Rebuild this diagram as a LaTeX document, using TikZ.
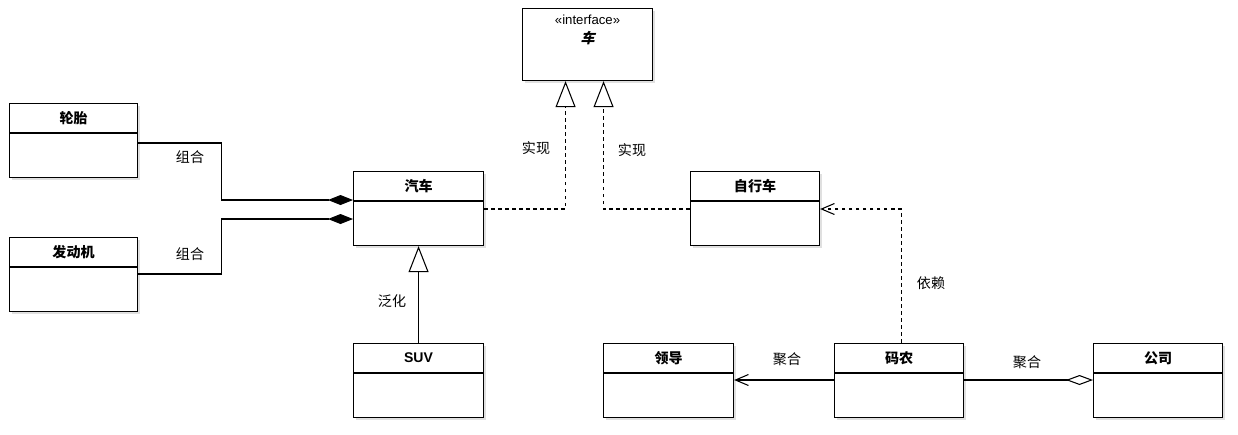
\documentclass[tikz,border=0pt]{standalone}
\usepackage{fontspec}
\setmainfont{Liberation Sans}
\newfontfamily\cjk{Noto Sans CJK SC}
\newfontfamily\cjkslant{Noto Sans CJK SC}[FakeSlant=0.25]
\usetikzlibrary{arrows.meta,calc,shadows}

\tikzset{
  x=0.02cm, y=-0.02cm,
  classbox/.style={rectangle,draw=black,line width=0.65pt,fill=white,
    minimum width=2.6cm,minimum height=1.48cm,anchor=north west,
    drop shadow={shadow xshift=1.6pt,shadow yshift=-1.6pt,fill=black!12,opacity=1}},
  classtitle/.style={font=\cjk\bfseries\fontsize{8}{10}\selectfont,inner sep=0pt},
  edgelabel/.style={font=\cjk\fontsize{8}{10}\selectfont,inner sep=1pt},
  compose/.style={line width=0.6pt,-{Diamond[length=0.5cm,width=0.2cm]}},
  realize/.style={line width=0.6pt,dash pattern=on 2pt off 2pt,
    -{Triangle[open,length=0.52cm,width=0.4cm,fill=white]}},
  generalize/.style={line width=0.6pt,-{Triangle[open,length=0.52cm,width=0.4cm,fill=white]}},
  depend/.style={line width=0.6pt,dash pattern=on 2pt off 2pt,-{Straight Barb[length=0.26cm,width=0.22cm]}},
  aggto/.style={line width=0.6pt,-{Straight Barb[length=0.26cm,width=0.22cm]}},
  aggregate/.style={line width=0.6pt,-{Diamond[open,length=0.54cm,width=0.2cm,fill=white]}}
}

% class box with a name compartment
\newcommand{\umlclass}[5][2.6cm]{%
  \node[classbox,minimum width=#1] (#2) at (#3,#4) {};
  \draw[line width=0.65pt] ($(#2.north west)+(0,30)$) -- ($(#2.north east)+(0,30)$);
  \node[classtitle] (#2-name) at ($(#2.north)+(0,15)$) {#5};
}

\begin{document}
\begin{tikzpicture}
  \useasboundingbox (0,0) rectangle (1238,434);

  % interface
  \node[classbox,minimum height=1.44cm] (iface) at (522,8) {};
  \node[font=\fontsize{7.5}{9}\selectfont,inner sep=0pt] (iface-st) at ($(iface.north)+(0,12)$) {«interface»};
  \node[font=\cjkslant\bfseries\fontsize{8}{10}\selectfont,inner sep=0pt] (iface-name) at ($(iface.north)+(0,30)$) {车};

  % classes
  \umlclass[2.56cm]{luntai}{9}{103}{轮胎}
  \umlclass[2.56cm]{fadongji}{9}{237}{发动机}
  \umlclass{qiche}{353}{171}{汽车}
  \umlclass[2.58cm]{zixingche}{690}{171}{自行车}
  \umlclass{suv}{353}{343}{{\rmfamily SUV}}
  \umlclass{lingdao}{603}{343}{领导}
  \umlclass[2.58cm]{manong}{834}{343}{码农}
  \umlclass[2.58cm]{gongsi}{1093}{343}{公司}

  % composition
  \draw[compose] ($(luntai.north east)+(0,40)$) -- ++(83,0) |- ($(qiche.north west)+(0,29)$);
  \draw[compose] ($(fadongji.north east)+(0,37)$) -- ++(83,0) |- ($(qiche.north west)+(0,48)$);
  \node[edgelabel] (lbl-zh1) at (190,157) {组合};
  \node[edgelabel] (lbl-zh2) at (190,254) {组合};

  % realization
  \draw[realize] ($(qiche.north east)+(0,38)$) -| ($(iface.south)+(-22,0)$);
  \draw[realize] ($(zixingche.north west)+(0,38)$) -| ($(iface.south)+(16,0)$);
  \node[edgelabel] (lbl-sx1) at (536,148) {实现};
  \node[edgelabel] (lbl-sx2) at (632,150) {实现};

  % generalization
  \draw[generalize] (suv.north) -- (qiche.south);
  \node[edgelabel] (lbl-fh) at (392,301) {泛化};

  % dependency
  \draw[depend] ($(manong.north)+(2,0)$) |- ($(zixingche.north east)+(0,38)$);
  \node[edgelabel] (lbl-yl) at (931,283) {依赖};

  % aggregation
  \draw[aggto] ($(manong.north west)+(0,37)$) -- ($(lingdao.north east)+(0,37)$);
  \draw[aggregate] ($(manong.north east)+(0,37)$) -- ($(gongsi.north west)+(0,37)$);
  \node[edgelabel] (lbl-jh1) at (787,359) {聚合};
  \node[edgelabel] (lbl-jh2) at (1027,362) {聚合};
\end{tikzpicture}
\end{document}
